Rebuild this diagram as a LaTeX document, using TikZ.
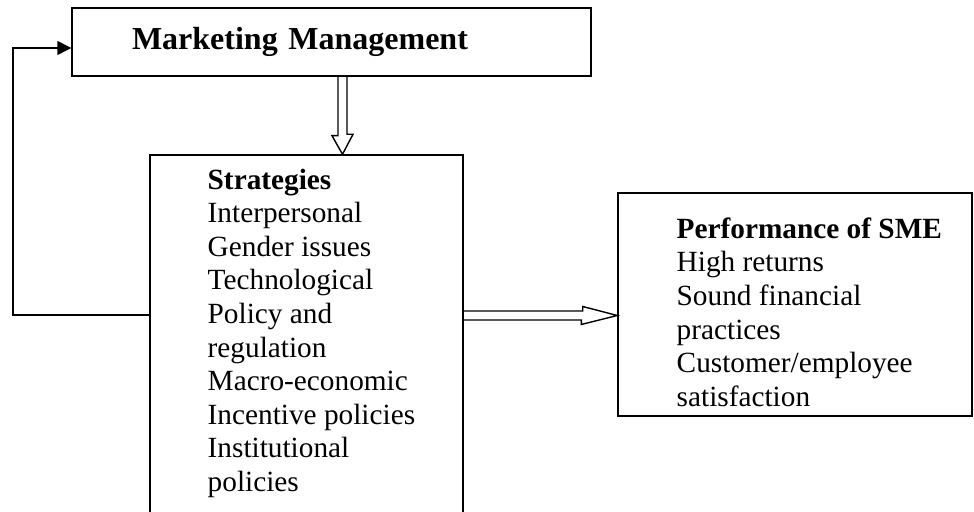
\documentclass[tikz,border=0pt]{standalone}
\usepackage{fontspec}
\setmainfont{Liberation Serif}
\usetikzlibrary{positioning,arrows.meta}

\tikzset{
    box/.style={draw, line width=0.7pt, rectangle, inner sep=0pt},
    listtext/.style={inner sep=0pt, align=left, font=\fontsize{14.65}{16.8}\selectfont},
    hollow/.style={draw, line width=0.7pt, line join=miter},
    feedback/.style={line width=0.7pt, -{Triangle[length=7pt,width=7pt]}},
}

\begin{document}
\begin{tikzpicture}[x=0.5pt,y=-0.5pt]
    \useasboundingbox (0,0) rectangle (974,512);
    \clip (0,0) rectangle (974,512);

    % boxes
    \node[box, minimum width=259.5pt, minimum height=34pt, inner xsep=30pt,
          text width=199.5pt, align=left, font=\fontsize{16}{19}\selectfont\bfseries]
          (mm) at (331.5,42) {Marketing Management};
    \node[box, minimum width=156.5pt, minimum height=187.5pt] (strat) at (306.5,342.5) {};
    \node[box, minimum width=177pt, minimum height=111.5pt] (perf) at (795,304.5) {};

    % box contents
    \node[listtext, below right=7pt and 29pt of strat.north west] (stratlist)
        {\textbf{Strategies}\\Interpersonal\\Gender issues\\Technological\\Policy and\\
         regulation\\Macro-economic\\Incentive policies\\Institutional\\policies};
    \node[listtext, below right=12.5pt and 29.5pt of perf.north west] (perflist)
        {\textbf{Performance of SME}\\High returns\\Sound financial\\practices\\
         Customer/employee\\satisfaction};

    % connectors
    \coordinate (dn) at (342.5,0);
    \coordinate (rt) at (0,315.5);
    \coordinate (fb) at (13,315);
    \coordinate (fbin) at (0,48);

    \draw[hollow] (dn |- mm.south) ++(-4.5,0) -- ++(0,59) -- ++(-6,0)
        -- (dn |- strat.north) -- ++(10.5,-20) -- ++(-6,0) -- ++(0,-59);
    \draw[hollow] (strat.east |- rt) ++(0,-4.5) -- ++(119,0) -- ++(0,-4.5)
        -- (rt -| perf.west) -- ++(-36,9) -- ++(0,-4.5) -- ++(-119,0);
    \draw[feedback] (fb -| strat.west) -- (fb) |- (fbin -| mm.west);
\end{tikzpicture}
\end{document}
